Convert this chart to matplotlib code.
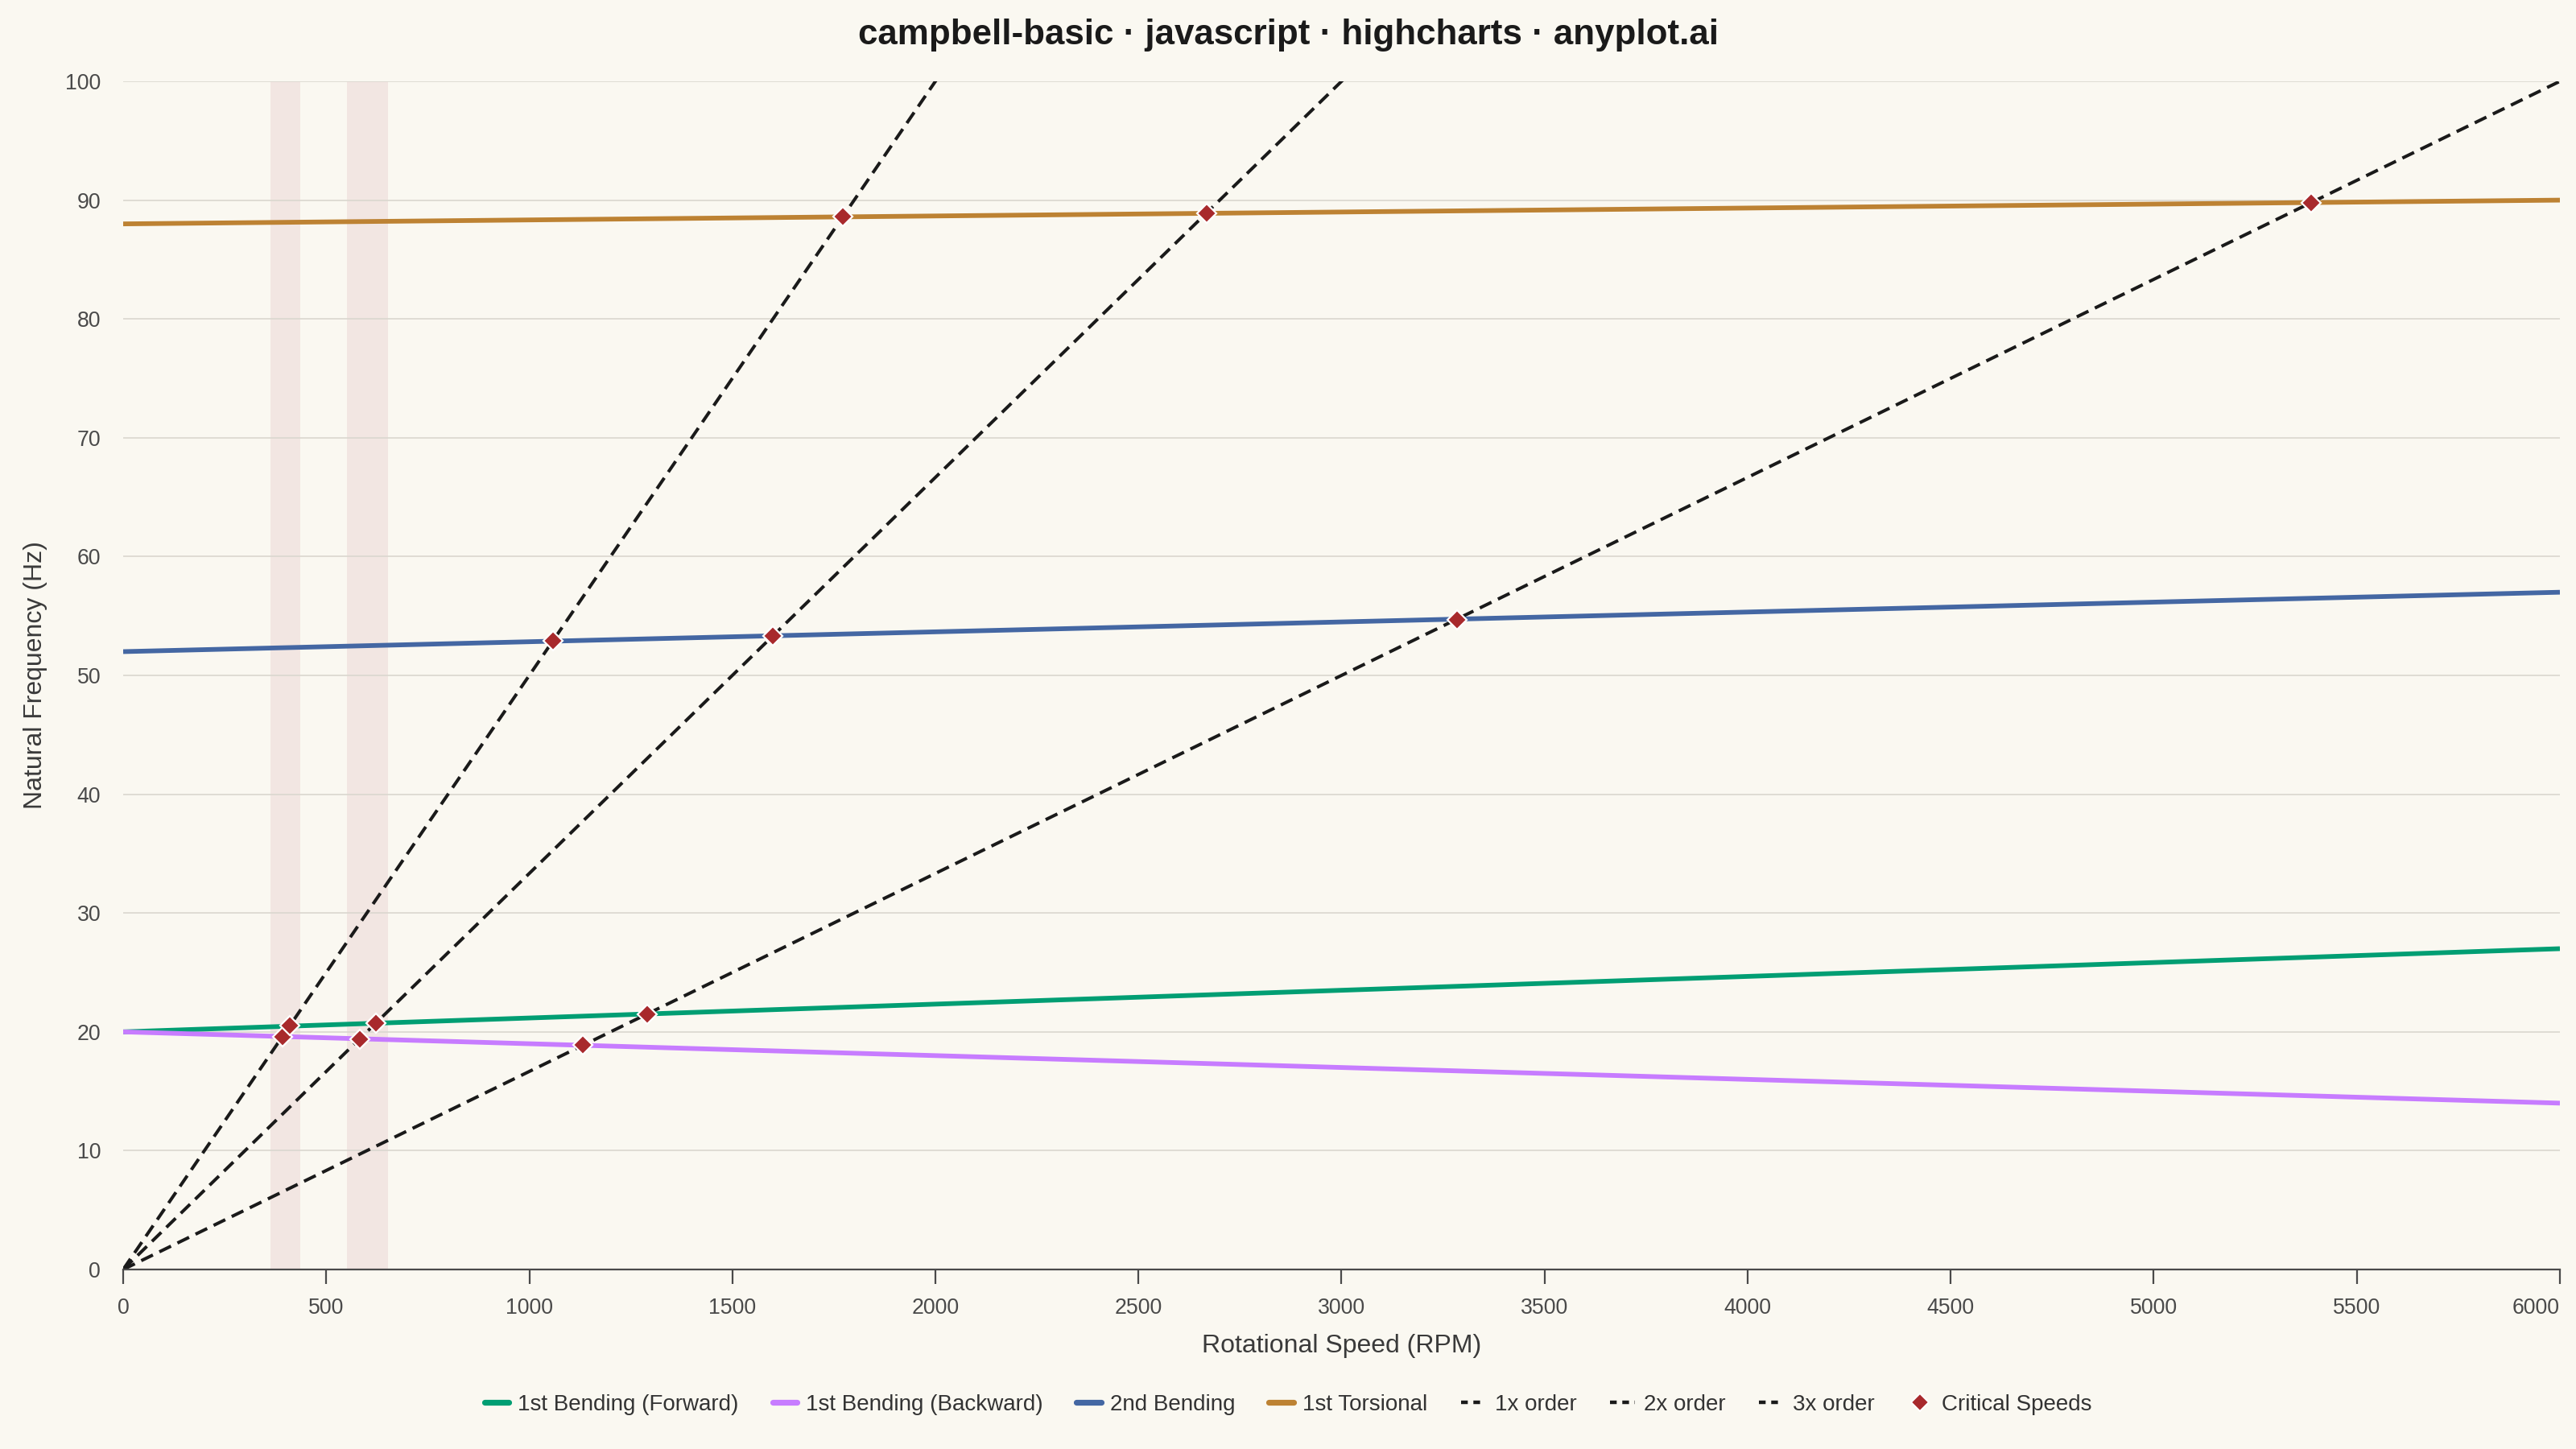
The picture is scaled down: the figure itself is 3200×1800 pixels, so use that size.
import matplotlib
matplotlib.use("Agg")
import matplotlib.pyplot as plt
from matplotlib.lines import Line2D

plt.rcParams['font.family'] = ['Liberation Sans', 'DejaVu Sans']
plt.rcParams['lines.scale_dashes'] = False

# ---- data ----
rpm = [0, 6000]
bend1_forward = [20, 27]
bend1_backward = [20, 14]
bend2 = [52, 57]
torsional1 = [88, 90]

order_rpm = [0, 6000]
order_1x = [0, 100]
order_2x = [0, 200]
order_3x = [0, 300]

crit_rpm = [392, 410, 582, 622, 1132, 1290, 1058, 1600, 3284, 1772, 2667, 5388]
crit_freq = [19.6, 20.5, 19.4, 20.7, 18.9, 21.5, 52.9, 53.3, 54.7, 88.6, 88.9, 89.8]

bands = [(362, 437), (552, 652)]

x_ticks = list(range(0, 6001, 500))
y_ticks = list(range(0, 101, 10))

title = "campbell-basic · javascript · highcharts · anyplot.ai"

# ---- style ----
BG = '#FAF8F1'
C_FWD = '#009E73'
C_BWD = '#C77CFF'
C_B2 = '#4467A3'
C_TOR = '#BD8233'
C_CRIT = '#A8292C'
C_ORDER = '#1A1A1A'
GRID = '#DAD7CF'
TXT = '#4A4A4A'

fig = plt.figure(figsize=(16, 9), dpi=200, facecolor=BG)
ax = fig.add_axes([153/3200, 1 - 1577/1800, (3180-153)/3200, (1577-101)/1800])
ax.set_facecolor(BG)

for lo, hi in bands:
    ax.axvspan(lo, hi, color='#F2E6E2', zorder=0.5, lw=0)
for yv in y_ticks[1:]:
    ax.axhline(yv, color=GRID, lw=0.6, zorder=1)

lw_mode = 2.1
ax.plot(rpm, bend1_forward, color=C_FWD, lw=lw_mode, zorder=3, solid_capstyle='butt')
ax.plot(rpm, bend1_backward, color=C_BWD, lw=lw_mode, zorder=3, solid_capstyle='butt')
ax.plot(rpm, bend2, color=C_B2, lw=lw_mode, zorder=3, solid_capstyle='butt')
ax.plot(rpm, torsional1, color=C_TOR, lw=lw_mode, zorder=3, solid_capstyle='butt')

dash = (0, (5.8, 3.2))
for ov in (order_1x, order_2x, order_3x):
    ax.plot(order_rpm, ov, color=C_ORDER, lw=1.45, linestyle=dash, zorder=4)

ax.plot(crit_rpm, crit_freq, linestyle='none', marker='D', ms=6.3,
        mfc=C_CRIT, mec='white', mew=0.8, zorder=5)

ax.set_xlim(0, 6000)
ax.set_ylim(0, 100)
ax.set_xticks(x_ticks)
ax.set_yticks(y_ticks)
for s in ('top', 'right', 'left'):
    ax.spines[s].set_visible(False)
ax.spines['bottom'].set_color('#4A4A4A')
ax.spines['bottom'].set_linewidth(0.8)
ax.spines['bottom'].set_zorder(6)
ax.tick_params(axis='x', direction='out', length=6.5, width=0.8, color='#4A4A4A',
               labelsize=9.6, labelcolor=TXT, pad=6)
ax.tick_params(axis='y', length=0, labelsize=9.6, labelcolor=TXT, pad=10)
xt_labels = ax.get_xticklabels()
xt_labels[-1].set_horizontalalignment('right')

ax.set_xlabel("Rotational Speed (RPM)", fontsize=11.5, color='#3A3A3A', labelpad=7)
ax.set_ylabel("Natural Frequency (Hz)", fontsize=11.5, color='#3A3A3A', labelpad=8)

fig.text(0.5, 1 - 43/1800, title, ha='center', va='center', fontsize=15.8,
         fontweight='bold', color='#1A1A1A')

handles = [
    Line2D([], [], color=C_FWD, lw=2.6, solid_capstyle='round'),
    Line2D([], [], color=C_BWD, lw=2.6, solid_capstyle='round'),
    Line2D([], [], color=C_B2, lw=2.6, solid_capstyle='round'),
    Line2D([], [], color=C_TOR, lw=2.6, solid_capstyle='round'),
    Line2D([], [], color=C_ORDER, lw=1.6, linestyle=(0, (3.0, 2.5))),
    Line2D([], [], color=C_ORDER, lw=1.6, linestyle=(0, (3.0, 2.5))),
    Line2D([], [], color=C_ORDER, lw=1.6, linestyle=(0, (3.0, 2.5))),
    Line2D([], [], linestyle='none', marker='D', ms=5.5, mfc=C_CRIT, mec='white', mew=0.7),
]
labels = ["1st Bending (Forward)", "1st Bending (Backward)", "2nd Bending",
          "1st Torsional", "1x order", "2x order", "3x order", "Critical Speeds"]
leg = fig.legend(handles, labels, loc='center', bbox_to_anchor=(0.5, 1 - 1745/1800),
                 ncol=8, frameon=False, fontsize=10, handlelength=1.1,
                 handletextpad=0.4, columnspacing=1.5, labelcolor='#333333')

fig.savefig("out.png", dpi=200, facecolor=BG)
